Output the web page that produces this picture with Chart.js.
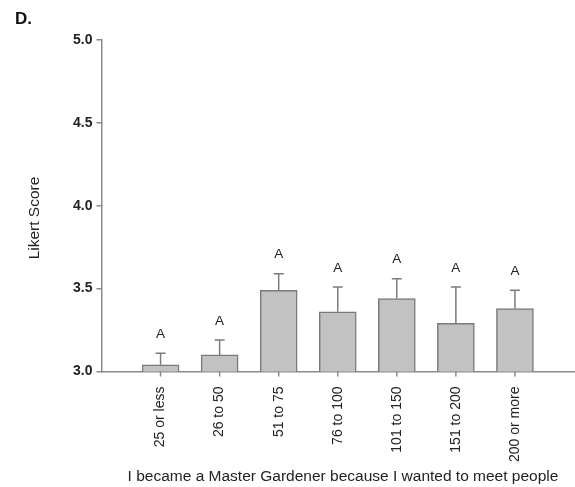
<!DOCTYPE html>
<html>
<head>
<meta charset="utf-8">
<script src="https://cdn.jsdelivr.net/npm/chart.js@4.4.1/dist/chart.umd.min.js"></script>
<style>
  html, body { margin: 0; padding: 0; background: #ffffff; }
  #wrap { width: 575px; height: 487px; position: relative; }
</style>
</head>
<body>
<div id="wrap"><canvas id="c" width="575" height="487"></canvas></div>
<script>
// Garden size groups (number of members) and mean Likert scores
const categories = ['25 or less', '26 to 50', '51 to 75', '76 to 100', '101 to 150', '151 to 200', '200 or more'];
const means = [3.04, 3.10, 3.49, 3.36, 3.44, 3.29, 3.38];
const errors = [0.07, 0.09, 0.10, 0.15, 0.12, 0.22, 0.11];
const letters = ['A', 'A', 'A', 'A', 'A', 'A', 'A'];
const yTicks = [3.0, 3.5, 4.0, 4.5, 5.0];
const panelLabel = 'D.';
const xTitle = 'I became a Master Gardener because I wanted to meet people';
const yTitle = 'Likert Score';

const FONT = '"Liberation Sans", Arial, sans-serif';
const AXIS = '#8a8a8a';
const TEXT = '#222222';

// one empty slot on each side so bars sit on whole-step positions
const labels = [''].concat(categories, ['']);
const barData = [null].concat(means, [null]);

const extras = {
  id: 'extras',
  afterDraw(chart) {
    const ctx = chart.ctx;
    const x = chart.scales.x, y = chart.scales.y;
    const base = chart.chartArea.bottom;
    ctx.save();
    ctx.lineWidth = 1.5;
    // category tick marks below the axis
    ctx.strokeStyle = AXIS;
    for (let i = 0; i < categories.length; i++) {
      const px = x.getPixelForValue(i + 1);
      ctx.beginPath();
      ctx.moveTo(px, base);
      ctx.lineTo(px, base + 5);
      ctx.stroke();
    }
    // upper error whiskers
    ctx.strokeStyle = '#7c7c7c';
    means.forEach((m, i) => {
      const px = x.getPixelForValue(i + 1);
      const top = y.getPixelForValue(m);
      const up = y.getPixelForValue(m + errors[i]);
      ctx.beginPath();
      ctx.moveTo(px, top);
      ctx.lineTo(px, up);
      ctx.moveTo(px - 5, up);
      ctx.lineTo(px + 5, up);
      ctx.stroke();
      // significance letter
      ctx.fillStyle = TEXT;
      ctx.font = '13.5px ' + FONT;
      ctx.textAlign = 'center';
      ctx.textBaseline = 'middle';
      ctx.fillText(letters[i], px, up - 19);
    });
    // panel letter
    ctx.font = 'bold 17px ' + FONT;
    ctx.textAlign = 'left';
    ctx.textBaseline = 'middle';
    ctx.fillStyle = '#111';
    ctx.fillText(panelLabel, 15, 19);
    // axis titles
    ctx.font = '15.5px ' + FONT;
    ctx.fillStyle = TEXT;
    ctx.textAlign = 'center';
    ctx.fillText(xTitle, 343, 477);
    ctx.translate(35, 218);
    ctx.rotate(-Math.PI / 2);
    ctx.fillText(yTitle, 0, 0);
    ctx.restore();
  }
};

new Chart(document.getElementById('c'), {
  type: 'bar',
  data: {
    labels: labels,
    datasets: [{
      data: barData,
      backgroundColor: '#c2c2c2',
      borderColor: '#7a7a7a',
      borderWidth: 1.5,
      barThickness: 37,
      borderSkipped: 'bottom'
    }]
  },
  options: {
    responsive: false,
    animation: false,
    layout: { padding: { top: 40, left: 0, right: 1, bottom: 0 } },
    plugins: { legend: { display: false }, tooltip: { enabled: false } },
    scales: {
      x: {
        offset: false,
        grid: { display: true, offset: false, drawOnChartArea: false, drawTicks: true, tickLength: 5, color: 'rgba(0,0,0,0)' },
        border: { display: true, color: AXIS, width: 1.5 },
        ticks: {
          autoSkip: false, minRotation: 90, maxRotation: 90, padding: 10,
          color: TEXT, font: { family: FONT, size: 14 }
        },
        afterBuildTicks(scale) {
          scale.ticks = scale.ticks.filter(t => t.value >= 1 && t.value <= categories.length);
        },
        afterFit(scale) { scale.height = 487 - 371.5; }
      },
      y: {
        min: 3, max: 5,
        grid: { display: true, drawOnChartArea: false, drawTicks: true, tickLength: 5, color: AXIS, lineWidth: 1.5 },
        border: { display: true, color: AXIS, width: 1.5 },
        afterBuildTicks(scale) {
          scale.ticks = yTicks.map(v => ({ value: v }));
        },
        ticks: {
          padding: 4, color: TEXT, font: { family: FONT, size: 14, weight: 'bold' },
          callback: v => Number(v).toFixed(1)
        },
        afterFit(scale) { scale.width = 101.5; }
      }
    }
  },
  plugins: [extras]
});
</script>
</body>
</html>
